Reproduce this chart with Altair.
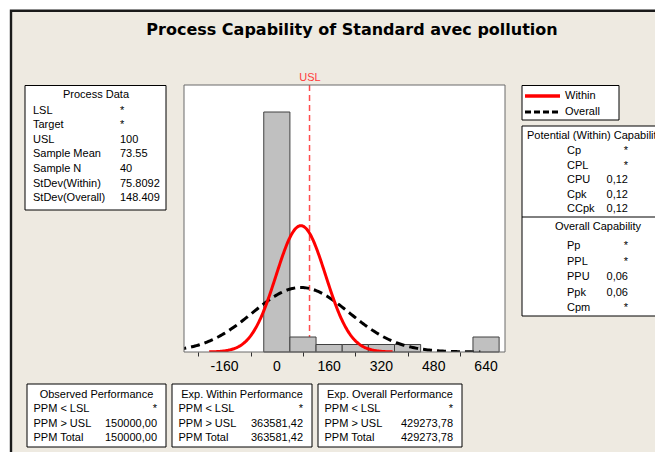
import altair as alt
import numpy as np
import pandas as pd

# ---------------- data ----------------
TITLE = "Process Capability of Standard avec pollution"
BIN_CENTERS = [0, 80, 160, 240, 320, 400, 640]
COUNTS = [32, 2, 1, 1, 1, 1, 2]
BIN_WIDTH = 80
USL = 100
MEAN = 73.55
N = 40
SD_WITHIN = 75.8092
SD_OVERALL = 148.409
X_TICKS = [-240, -160, -80, 0, 80, 160, 240, 320, 400, 480, 560, 640]
X_LABELS = [-160, 0, 160, 320, 480, 640]

PROCESS_LABELS = ["LSL", "Target", "USL", "Sample Mean", "Sample N", "StDev(Within)", "StDev(Overall)"]
PROCESS_VALUES = ["*", "*", "100", "73.55", "40", "75.8092", "148.409"]
LEGEND_NAMES = ["Within", "Overall"]
POT_TITLE = "Potential (Within) Capability"
POT_LABELS = ["Cp", "CPL", "CPU", "Cpk", "CCpk"]
POT_VALUES = ["*", "*", "0,12", "0,12", "0,12"]
OVR_TITLE = "Overall Capability"
OVR_LABELS = ["Pp", "PPL", "PPU", "Ppk", "Cpm"]
OVR_VALUES = ["*", "*", "0,06", "0,06", "*"]
PERF_TITLES = ["Observed Performance", "Exp. Within Performance", "Exp. Overall Performance"]
PERF_LABELS = ["PPM < LSL", "PPM > USL", "PPM Total"]
OBS_VALUES = ["*", "150000,00", "150000,00"]
WITHIN_VALUES = ["*", "363581,42", "363581,42"]
OVERALL_VALUES = ["*", "429273,78", "429273,78"]

# ---------------- styling ----------------
FONT = "Liberation Sans"
TITLE_FONT = "DejaVu Sans"
BEIGE = "#EEEAE1"
RED = "#FF0000"

hist = pd.DataFrame({"center": BIN_CENTERS, "count": COUNTS})
tick_labels = pd.DataFrame({"v": X_LABELS, "lab": [str(v) for v in X_LABELS]})


def normal_curve(sd, k=3.7, n=240):
    xs = np.linspace(MEAN - k * sd, MEAN + k * sd, n)
    ys = N * BIN_WIDTH * np.exp(-0.5 * ((xs - MEAN) / sd) ** 2) / (sd * np.sqrt(2 * np.pi))
    return pd.DataFrame({"x": xs, "y": ys})


within_df = normal_curve(SD_WITHIN)
overall_df = normal_curve(SD_OVERALL)

# plot area placement (page pixels)
OX, OY = 184, 85
PW, PH = 321, 267
CW, CH = 647, 444

XS = alt.Scale(domain=[-284, 698], nice=False, zero=False)
YS = alt.Scale(domain=[0, 35.6], nice=False, zero=True)

ONE = alt.Data(values=[{"k": 1}])


def px(x):
    return x - OX


def py(y):
    return y - OY


def box(x0, y0, x1, y1, fill="white", stroke="#000000", sw=1.0):
    return alt.Chart(ONE).mark_rect(fill=fill, stroke=stroke, strokeWidth=sw).encode(
        x=alt.value(px(x0)), x2=alt.value(px(x1)), y=alt.value(py(y0)), y2=alt.value(py(y1)))


def txt(s, x, y, align="left", size=11, color="#000000", weight="normal", font=FONT):
    return alt.Chart(ONE).mark_text(text=s, align=align, baseline="middle", font=font,
                                    fontSize=size, color=color, fontWeight=weight).encode(
        x=alt.value(px(x)), y=alt.value(py(y)))


def hline(x0, x1, y, color="#000000", sw=1.0, dash=None):
    kw = dict(color=color, strokeWidth=sw)
    if dash:
        kw["strokeDash"] = dash
    return alt.Chart(ONE).mark_rule(**kw).encode(
        x=alt.value(px(x0)), x2=alt.value(px(x1)), y=alt.value(py(y)))


layers = []
# outer frame
layers.append(box(11, 10.7, 720, 500, fill=BEIGE, stroke="#1a1a1a", sw=2.4))
# plot area background
layers.append(box(OX, OY, OX + PW, OY + PH, fill="white", stroke="white", sw=0))

# USL line
usl = alt.Chart(pd.DataFrame({"usl": [USL]})).mark_rule(
    color="#FF4D4D", strokeWidth=1.5, strokeDash=[6, 4]).encode(
    x=alt.X("usl:Q", scale=XS), y=alt.value(0), y2=alt.value(PH))
layers.append(usl)

bars = alt.Chart(hist).transform_calculate(
    lo=f"datum.center - {BIN_WIDTH / 2}", hi=f"datum.center + {BIN_WIDTH / 2}"
).mark_rect(fill="#C0C0C0", stroke="#404040", strokeWidth=1).encode(
    x=alt.X("lo:Q", scale=XS,
            axis=alt.Axis(values=X_TICKS, title="", grid=False, domain=False,
                          tickSize=4, tickColor="#303030", tickWidth=1,
                          labels=False, zindex=1)),
    x2="hi:Q",
    y=alt.Y("count:Q", scale=YS, axis=None),
)
layers.append(bars)

overall_line = alt.Chart(overall_df).mark_line(
    color="#000000", strokeWidth=3, strokeDash=[9, 5], clip=True).encode(
    x=alt.X("x:Q", scale=XS), y=alt.Y("y:Q", scale=YS))
within_line = alt.Chart(within_df).mark_line(
    color=RED, strokeWidth=3, clip=True).encode(
    x=alt.X("x:Q", scale=XS), y=alt.Y("y:Q", scale=YS))
layers += [overall_line, within_line]

# tick labels placed through the x scale
layers.append(alt.Chart(tick_labels).mark_text(
    font=FONT, fontSize=14, color="#000000", align="center", baseline="middle").encode(
    x=alt.X("v:Q", scale=XS), y=alt.value(PH + 15), text="lab:N"))

# plot border
layers.append(alt.Chart(ONE).mark_rect(fillOpacity=0, stroke="#6a6a6a", strokeWidth=1).encode(
    x=alt.value(0), x2=alt.value(PW), y=alt.value(0), y2=alt.value(PH)))

# title and USL label
layers.append(txt(TITLE, 352, 30, align="center", size=16, weight="bold", font=TITLE_FONT))
layers.append(txt("USL", 310, 78, align="center", size=11, color="#FF3B3B"))

# Process data box
layers.append(box(25, 85.5, 166, 210))
layers.append(txt("Process Data", 96, 95, align="center"))
for i, (lab, val) in enumerate(zip(PROCESS_LABELS, PROCESS_VALUES)):
    y = 110.5 + i * 14.6
    layers.append(txt(lab, 33, y))
    layers.append(txt(val, 120, y))

# legend box
layers.append(box(522, 85.5, 619, 120))
layers.append(hline(525, 560, 96, color=RED, sw=3.5))
layers.append(hline(525, 560, 112, color="#000000", sw=3, dash=[6, 3]))
layers.append(txt(LEGEND_NAMES[0], 565, 96))
layers.append(txt(LEGEND_NAMES[1], 565, 112))

# capability box
layers.append(box(522, 126, 720, 316))
layers.append(hline(522, 720, 217))
layers.append(txt(POT_TITLE, 527, 136))
for i, (lab, val) in enumerate(zip(POT_LABELS, POT_VALUES)):
    y = 151 + i * 14.5
    layers.append(txt(lab, 567, y))
    layers.append(txt(val, 628, y, align="right"))
layers.append(txt(OVR_TITLE, 598, 227, align="center"))
for i, (lab, val) in enumerate(zip(OVR_LABELS, OVR_VALUES)):
    y = 246 + i * 15.5
    layers.append(txt(lab, 567, y))
    layers.append(txt(val, 628, y, align="right"))

# performance boxes
perf_boxes = [(27, 166), (172, 312), (318, 462)]
perf_values = [OBS_VALUES, WITHIN_VALUES, OVERALL_VALUES]
for (x0, x1), title, vals in zip(perf_boxes, PERF_TITLES, perf_values):
    layers.append(box(x0, 384, x1, 447))
    layers.append(txt(title, (x0 + x1) / 2, 394.5, align="center"))
    for i, (lab, val) in enumerate(zip(PERF_LABELS, vals)):
        y = 409 + i * 14.5
        layers.append(txt(lab, x0 + 6.5, y))
        layers.append(txt(val, x1 - 9, y, align="right"))

chart = alt.layer(*layers).properties(
    width=PW, height=PH,
    autosize=alt.AutoSizeParams(type="none"),
    padding={"left": OX - 8, "top": OY - 8, "right": CW - (OX - 8) - PW, "bottom": CH - (OY - 8) - PH},
    background="white",
).configure_view(stroke=None)

chart.save("out.html", embed_options={"renderer": "svg", "actions": False})
